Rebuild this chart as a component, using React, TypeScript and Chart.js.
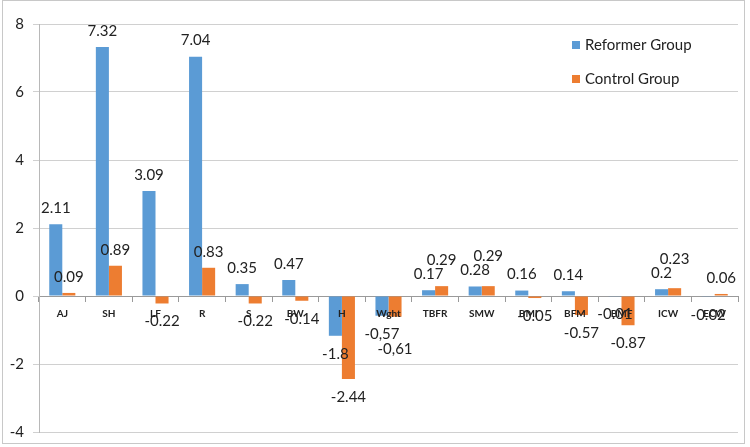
import React, { useEffect, useRef } from 'react';
import { Chart, registerables } from 'chart.js';

Chart.register(...registerables);

const categories = ['AJ', 'SH', 'LF', 'R', 'S', 'BW', 'H', 'Wght', 'TBFR', 'SMW', 'BMI', 'BFM', 'BMF', 'ICW', 'ECW'];
const reformerValues = [2.11, 7.32, 3.09, 7.04, 0.35, 0.47, -1.17, -0.58, 0.17, 0.28, 0.16, 0.14, -0.01, 0.2, -0.02];
const controlValues = [0.09, 0.89, -0.22, 0.83, -0.22, -0.14, -2.44, -0.61, 0.29, 0.29, -0.06, -0.56, -0.86, 0.23, 0.06];
const reformerLabels = ['2.11', '7.32', '3.09', '7.04', '0.35', '0.47', '-1.8', '-0,57', '0.17', '0.28', '0.16', '0.14', '-0.01', '0.2', '-0.02'];
const controlLabels = ['0.09', '0.89', '-0.22', '0.83', '-0.22', '-0.14', '-2.44', '-0,61', '0.29', '0.29', '-0.05', '-0.57', '-0.87', '0.23', '0.06'];
const seriesNames = ['Reformer Group', 'Control Group'];
const yMin = -4;
const yMax = 8;
const yStep = 2;

const BLUE = '#5B9BD5';
const ORANGE = '#ED7D31';
const FONT = 'Lato, "Open Sans", sans-serif';

const borderPlugin = {
  id: 'outerBorder',
  beforeDraw(chart: any) {
    const ctx = chart.ctx;
    ctx.save();
    ctx.fillStyle = '#ffffff';
    ctx.fillRect(0, 0, chart.width, chart.height);
    ctx.strokeStyle = '#c8c8c8';
    ctx.lineWidth = 1;
    ctx.strokeRect(2.5, 0.5, chart.width - 8, chart.height - 4);
    ctx.restore();
  },
};

const valueLabelPlugin = {
  id: 'valueLabels',
  afterDraw(chart: any) {
    const ctx = chart.ctx;
    ctx.save();
    ctx.font = `15px ${FONT}`;
    ctx.fillStyle = '#222222';
    ctx.textAlign = 'center';
    ctx.textBaseline = 'middle';
    const metas = [chart.getDatasetMeta(0), chart.getDatasetMeta(1)];
    const values = [reformerValues, controlValues];
    const texts = [reformerLabels, controlLabels];
    categories.forEach((_, i) => {
      const pos = metas.map((m: any, d: number) => {
        const el = m.data[i];
        const up = values[d][i] >= 0;
        return {
          x: el.x,
          y: up ? el.y - 16 : el.y + 18,
          up,
          w: ctx.measureText(texts[d][i]).width,
          t: texts[d][i],
        };
      });
      const [a, b] = pos;
      if (a.up === b.up && Math.abs(a.y - b.y) < 14 && Math.abs(a.x - b.x) < (a.w + b.w) / 2) {
        b.y = a.up ? a.y - 14 : a.y + 15;
      }
      pos.forEach((p: any) => ctx.fillText(p.t, p.x, p.y));
    });
    ctx.restore();
  },
};

const legendPlugin = {
  id: 'customLegend',
  afterDraw(chart: any) {
    const ctx = chart.ctx;
    const area = chart.chartArea;
    ctx.save();
    ctx.font = `15px ${FONT}`;
    ctx.textBaseline = 'middle';
    ctx.textAlign = 'left';
    const colors = [BLUE, ORANGE];
    const x0 = area.right - 166;
    seriesNames.forEach((name, i) => {
      const y = area.top + 21 + i * 34;
      ctx.fillStyle = colors[i];
      ctx.fillRect(x0, y - 4, 8, 8);
      ctx.fillStyle = '#222222';
      ctx.fillText(name, x0 + 13, y);
    });
    ctx.restore();
  },
};

export default function App() {
  const canvasRef = useRef<HTMLCanvasElement | null>(null);

  useEffect(() => {
    document.body.style.margin = '0';
    const canvas = canvasRef.current;
    if (!canvas) return;
    const chart = new Chart(canvas, {
      type: 'bar',
      data: {
        labels: categories,
        datasets: [
          { label: seriesNames[0], data: reformerValues, backgroundColor: BLUE, borderWidth: 0 },
          { label: seriesNames[1], data: controlValues, backgroundColor: ORANGE, borderWidth: 0 },
        ],
      },
      options: {
        animation: false,
        responsive: false,
        maintainAspectRatio: false,
        devicePixelRatio: 1,
        layout: { padding: { left: 0, right: 12, top: 24, bottom: 15 } },
        datasets: { bar: { categoryPercentage: 0.56, barPercentage: 1 } },
        plugins: {
          legend: { display: false },
          tooltip: { enabled: false },
        },
        scales: {
          x: {
            position: { y: 0 } as any,
            offset: true,
            z: 1,
            grid: {
              display: true,
              drawOnChartArea: false,
              offset: true,
              tickLength: 5,
              color: '#9a9a9a',
            },
            border: { display: true, color: '#9a9a9a', width: 1 },
            ticks: {
              z: 1,
              font: { family: FONT, size: 10, weight: 'bold' },
              color: '#222222',
              padding: 7,
              maxRotation: 0,
              autoSkip: false,
            },
            afterFit: (s: any) => {
              s.height = 0;
              s.paddingLeft = 0;
              s.paddingRight = 0;
            },
          },
          y: {
            min: yMin,
            max: yMax,
            ticks: {
              stepSize: yStep,
              font: { family: FONT, size: 15 },
              color: '#222222',
              padding: 9,
            },
            grid: {
              color: '#d0d0d0',
              tickLength: 6,
            },
            border: { display: true, color: '#b8b8b8' },
            afterFit: (s: any) => {
              s.width = 39;
              s.paddingTop = 0;
              s.paddingBottom = 0;
            },
          },
        },
      },
      plugins: [borderPlugin, valueLabelPlugin, legendPlugin],
    });
    return () => chart.destroy();
  }, []);

  return (
    <div style={{ width: 750, height: 447, background: '#fff' }}>
      <canvas ref={canvasRef} width={750} height={447} style={{ display: 'block', width: 750, height: 447 }} />
    </div>
  );
}
